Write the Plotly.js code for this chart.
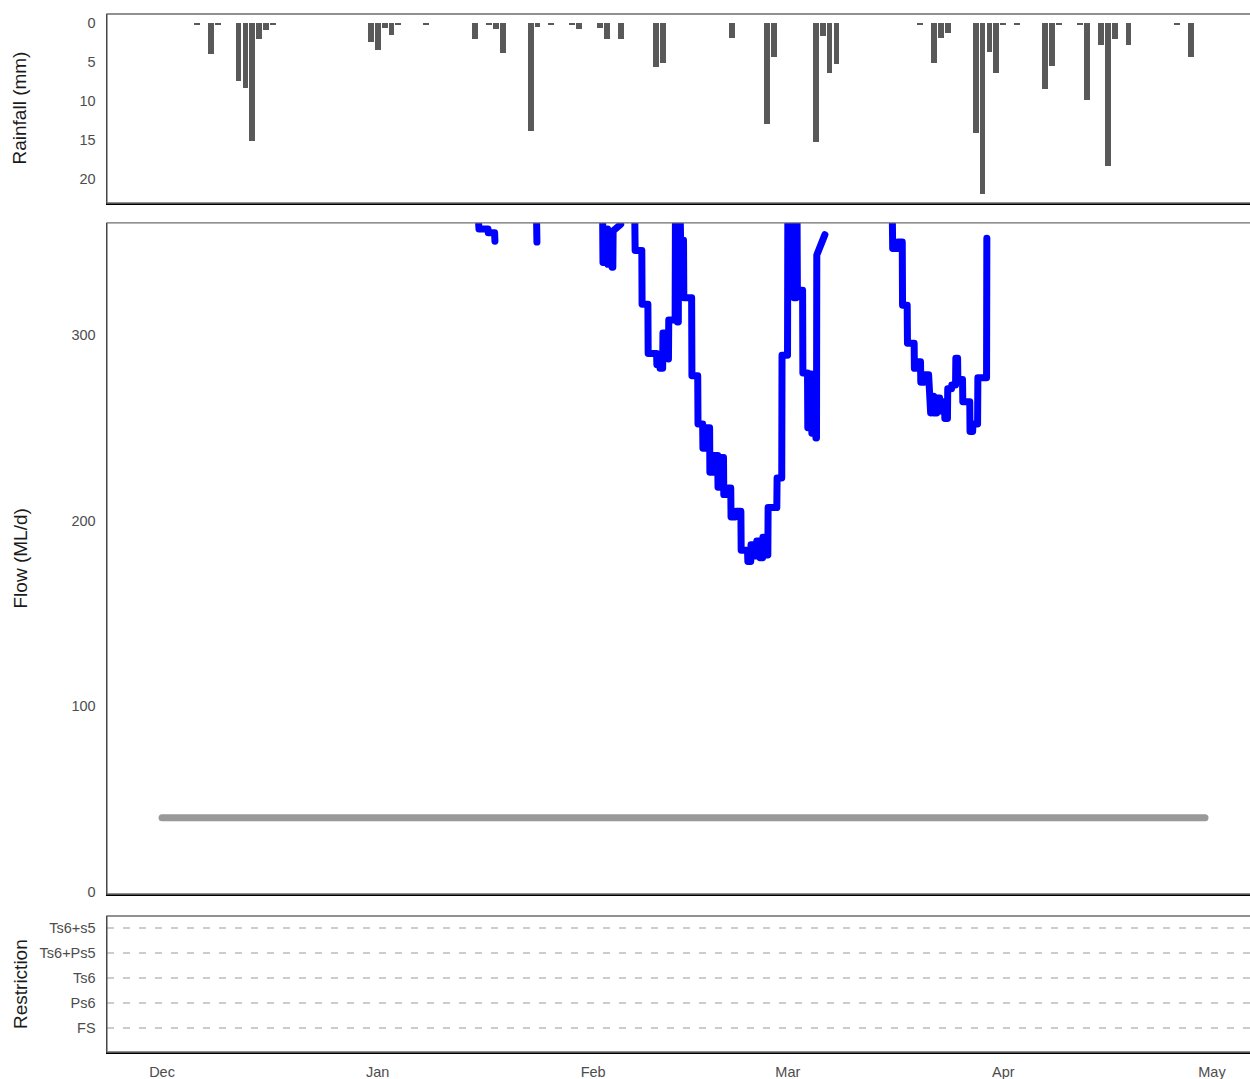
<!DOCTYPE html>
<html>
<head>
<meta charset="utf-8">
<script src="https://cdn.plot.ly/plotly-3.0.1.min.js"></script>
<style>
html, body { margin: 0; padding: 0; overflow: hidden; background: #fff; }
#chart { width: 1268px; height: 1079px; }
</style>
</head>
<body>
<div id="chart"></div>
<script>
// ---------- Data ----------
const rainDates = ['2018-12-06','2018-12-08','2018-12-09','2018-12-12','2018-12-13','2018-12-14','2018-12-15','2018-12-16','2018-12-17',
  '2018-12-31','2019-01-01','2019-01-02','2019-01-03','2019-01-04','2019-01-08','2019-01-15','2019-01-17','2019-01-18','2019-01-19',
  '2019-01-23','2019-01-24','2019-01-26','2019-01-29','2019-01-30','2019-02-02','2019-02-03','2019-02-05','2019-02-10','2019-02-11',
  '2019-02-21','2019-02-26','2019-02-27','2019-03-05','2019-03-06','2019-03-07','2019-03-08','2019-03-20','2019-03-22','2019-03-23',
  '2019-03-24','2019-03-28','2019-03-29','2019-03-30','2019-03-31','2019-04-01','2019-04-03','2019-04-07','2019-04-08','2019-04-09',
  '2019-04-12','2019-04-13','2019-04-15','2019-04-16','2019-04-17','2019-04-19','2019-04-26','2019-04-28'];
const rainValues = [0.2,4.0,0.2,7.5,8.3,15.1,2.0,0.9,0.3,
  2.5,3.5,0.7,1.5,0.2,0.2,2.0,0.2,0.8,3.9,
  13.9,0.5,0.2,0.2,0.8,0.6,2.1,2.1,5.7,5.1,
  1.9,12.9,4.3,15.3,1.7,6.4,5.3,0.2,5.1,1.9,
  1.3,14.1,21.9,3.7,6.4,0.2,0.2,8.5,5.5,0.2,
  0.2,9.9,2.8,18.3,2.1,2.8,0.2,4.3];

// Flow (ML/d) pieces that fall inside the plotted range (values above the limit are not shown)
const flowJan15 = [['2019-01-15 13:00',359.5],['2019-01-15 14:00',357],['2019-01-16 21:00',357],['2019-01-16 22:00',355],
  ['2019-01-17 20:00',355],['2019-01-17 21:00',350.5]];
const flowJan23 = [['2019-01-23 21:00',359.8],['2019-01-23 22:00',350]];
const flowFeb02 = [['2019-02-02 09:00',359.8],['2019-02-02 10:00',339],['2019-02-02 19:00',339],['2019-02-02 20:00',357],
  ['2019-02-03 02:00',357],['2019-02-03 03:00',338],['2019-02-03 16:00',338],['2019-02-03 17:00',336.5],
  ['2019-02-03 20:00',336.5],['2019-02-03 21:00',356],['2019-02-04 23:00',359.5]];
const flowFeb07 = [['2019-02-07 00:00',359.8],['2019-02-07 01:00',345.5],['2019-02-08 00:00',345.5],['2019-02-08 01:00',316.5],
  ['2019-02-08 21:00',316.5],['2019-02-08 22:00',290],['2019-02-10 03:00',290],['2019-02-10 04:00',284],
  ['2019-02-10 14:00',284],['2019-02-10 15:00',282],['2019-02-11 00:00',282],['2019-02-11 01:00',301],
  ['2019-02-11 14:00',301],['2019-02-11 15:00',287],['2019-02-11 20:00',287],['2019-02-11 21:00',308],
  ['2019-02-12 19:00',308],['2019-02-12 20:00',359.8],['2019-02-13 02:00',359.8],['2019-02-13 03:00',307],
  ['2019-02-13 06:00',307],['2019-02-13 07:00',359.8],['2019-02-13 13:00',359.8],['2019-02-13 14:00',351],
  ['2019-02-14 00:00',351],['2019-02-14 01:00',320],['2019-02-15 04:00',320],['2019-02-15 05:00',278],
  ['2019-02-16 01:00',278],['2019-02-16 02:00',252],['2019-02-16 18:00',252],['2019-02-16 19:00',239],
  ['2019-02-17 05:00',239],['2019-02-17 06:00',250],['2019-02-17 18:00',250],['2019-02-17 19:00',226],
  ['2019-02-18 05:00',226],['2019-02-18 06:00',235],['2019-02-18 22:00',235],['2019-02-18 23:00',218],
  ['2019-02-19 09:00',218],['2019-02-19 10:00',234],['2019-02-19 18:00',234],['2019-02-19 19:00',214],
  ['2019-02-20 09:00',214],['2019-02-20 10:00',217.5],['2019-02-20 19:00',217.5],['2019-02-20 20:00',202],
  ['2019-02-21 12:00',202],['2019-02-21 13:00',205],['2019-02-22 06:00',205],['2019-02-22 07:00',184],
  ['2019-02-23 05:00',184],['2019-02-23 06:00',178],['2019-02-23 16:00',178],['2019-02-23 17:00',187],
  ['2019-02-24 02:00',187],['2019-02-24 03:00',181],['2019-02-24 12:00',181],['2019-02-24 13:00',189],
  ['2019-02-24 23:00',189],['2019-02-25 00:00',180],['2019-02-25 09:00',180],['2019-02-25 10:00',191],
  ['2019-02-25 20:00',191],['2019-02-25 21:00',181.5],['2019-02-26 03:00',181.5],['2019-02-26 04:00',207],
  ['2019-02-27 10:00',207],['2019-02-27 11:00',223],['2019-02-28 03:00',223],['2019-02-28 04:00',289],
  ['2019-02-28 23:00',289],['2019-03-01 00:00',359.8],['2019-03-01 03:00',359.8],['2019-03-01 04:00',322],
  ['2019-03-01 11:00',322],['2019-03-01 12:00',359.8],['2019-03-01 20:00',359.8],['2019-03-01 21:00',320],
  ['2019-03-02 05:00',320],['2019-03-02 06:00',359.8],['2019-03-02 08:00',359.8],['2019-03-02 09:00',324],
  ['2019-03-03 03:00',324],['2019-03-03 04:00',279.5],['2019-03-03 20:00',279.5],['2019-03-03 21:00',250],
  ['2019-03-04 03:00',250],['2019-03-04 04:00',279],['2019-03-04 10:00',279],['2019-03-04 11:00',247],
  ['2019-03-04 17:00',247],['2019-03-04 18:00',279],['2019-03-05 00:00',279],['2019-03-05 01:00',244.5],
  ['2019-03-05 03:00',244.5],['2019-03-05 04:00',343],['2019-03-06 08:00',354]];
const flowMar16 = [['2019-03-16 01:00',359.8],['2019-03-16 02:00',346.5],['2019-03-16 19:00',346.5],['2019-03-16 20:00',350],
  ['2019-03-17 11:00',350],['2019-03-17 12:00',316],['2019-03-18 04:00',316],['2019-03-18 05:00',295.5],
  ['2019-03-19 04:00',295.5],['2019-03-19 05:00',282],['2019-03-19 14:00',282],['2019-03-19 15:00',285.5],
  ['2019-03-20 02:00',285.5],['2019-03-20 03:00',274.5],['2019-03-20 12:00',274.5],['2019-03-20 13:00',278.5],
  ['2019-03-21 06:00',278.5],['2019-03-21 07:00',258],['2019-03-21 13:00',258],['2019-03-21 14:00',267],
  ['2019-03-21 23:00',267],['2019-03-22 00:00',258],['2019-03-22 10:00',258],['2019-03-22 11:00',266],
  ['2019-03-22 20:00',266],['2019-03-22 21:00',259],['2019-03-23 06:00',259],['2019-03-23 07:00',264],
  ['2019-03-23 13:00',264],['2019-03-23 14:00',255],['2019-03-23 23:00',255],['2019-03-24 00:00',271],
  ['2019-03-24 13:00',271],['2019-03-24 14:00',273],['2019-03-25 03:00',273],['2019-03-25 04:00',287.5],
  ['2019-03-25 10:00',287.5],['2019-03-25 11:00',276],['2019-03-26 03:00',276],['2019-03-26 04:00',264],
  ['2019-03-27 04:00',264],['2019-03-27 05:00',248],['2019-03-27 14:00',248],['2019-03-27 15:00',252],
  ['2019-03-28 07:00',252],['2019-03-28 08:00',277],['2019-03-29 14:00',277],['2019-03-29 15:00',352]];

const thresholdDates = ['2018-12-01','2019-04-30'];
const thresholdValues = [40, 40];

const restrictionLevels = ['FS','Ps6','Ts6','Ts6+Ps5','Ts6+s5'];

const monthTicks = ['2018-12-01','2019-01-01','2019-02-01','2019-03-01','2019-04-01','2019-05-01'];
const monthLabels = ['Dec','Jan','Feb','Mar','Apr','May'];

// ---------- Build flow trace (gaps between pieces) ----------
const flowPieces = [flowJan15, flowJan23, flowFeb02, flowFeb07, flowMar16];
const flowX = [], flowY = [];
flowPieces.forEach((p, i) => {
  if (i > 0) { flowX.push(null); flowY.push(null); }
  p.forEach(pt => { flowX.push(pt[0]); flowY.push(pt[1]); });
});

// ---------- Styling ----------
const FONT = '"Liberation Sans", Arial, sans-serif';
const tickFont = {family: FONT, size: 14.5, color: '#4d4d4d'};
const titleFont = {family: FONT, size: 19, color: '#1a1a1a'};
const xRange = ['2018-11-23 02:00', '2019-05-08 22:00'];
const frameColor = '#6e6e6e';

const baseX = {
  type: 'date', range: xRange, showgrid: false, zeroline: false,
  showline: true, linecolor: '#000', linewidth: 1.5, ticks: '',
  tickvals: monthTicks, ticktext: monthLabels, tickfont: tickFont
};

const traces = [
  {type: 'bar', x: rainDates, y: rainValues, xaxis: 'x', yaxis: 'y',
   marker: {color: '#595959', line: {width: 0}}, width: 0.85 * 86400000, hoverinfo: 'x+y'},
  {type: 'scatter', mode: 'lines', x: thresholdDates, y: thresholdValues, xaxis: 'x2', yaxis: 'y2',
   line: {color: '#999999', width: 7}},
  {type: 'scatter', mode: 'lines', x: flowX, y: flowY, xaxis: 'x2', yaxis: 'y2', connectgaps: false,
   line: {color: '#0000ff', width: 7}},
  {type: 'scatter', mode: 'markers', x: [], y: [], xaxis: 'x3', yaxis: 'y3'}
];

function frame(xr, yr) {
  return {type: 'rect', xref: xr + ' domain', yref: yr + ' domain', x0: 0, x1: 1, y0: 0, y1: 1,
          line: {color: frameColor, width: 1.3}, fillcolor: 'rgba(0,0,0,0)', layer: 'above'};
}

const layout = {
  width: 1268, height: 1079,
  margin: {l: 107, r: 1, t: 14, b: 27},
  paper_bgcolor: '#fff', plot_bgcolor: '#fff',
  showlegend: false, bargap: 0,
  font: {family: FONT},
  xaxis: Object.assign({}, baseX, {anchor: 'y', showticklabels: false}),
  xaxis2: Object.assign({}, baseX, {anchor: 'y2', matches: 'x', showticklabels: false}),
  xaxis3: Object.assign({}, baseX, {anchor: 'y3', matches: 'x', showticklabels: true, ticklabelstandoff: 6}),
  yaxis: {domain: [0.8179, 1], range: [23.08, -1.15], tickvals: [0,5,10,15,20], ticks: '',
          showgrid: false, zeroline: false, showline: true, linecolor: '#000', linewidth: 1.5,
          tickfont: tickFont, ticklabelstandoff: 7},
  yaxis2: {domain: [0.1522, 0.7987], range: [-1.1, 360.3], tickvals: [0,100,200,300], ticks: '',
           showgrid: false, zeroline: false, showline: true, linecolor: '#000', linewidth: 1.5,
           tickfont: tickFont, ticklabelstandoff: 7},
  yaxis3: {domain: [0, 0.131], range: [0.04, 5.48], tickvals: [1,2,3,4,5], ticktext: restrictionLevels, ticks: '',
           showgrid: true, gridcolor: '#cccccc', gridwidth: 1.3, griddash: '7px,9px',
           zeroline: false, showline: true, linecolor: '#000', linewidth: 1.5,
           tickfont: tickFont, ticklabelstandoff: 7},
  shapes: [frame('x', 'y'), frame('x2', 'y2'), frame('x3', 'y3')],
  annotations: [
    {text: 'Rainfall (mm)', xref: 'paper', yref: 'y domain', x: -0.075, y: 0.5, xanchor: 'center', yanchor: 'middle',
     textangle: -90, showarrow: false, font: titleFont},
    {text: 'Flow (ML/d)', xref: 'paper', yref: 'y2 domain', x: -0.075, y: 0.5, xanchor: 'center', yanchor: 'middle',
     textangle: -90, showarrow: false, font: titleFont},
    {text: 'Restriction', xref: 'paper', yref: 'y3 domain', x: -0.075, y: 0.5, xanchor: 'center', yanchor: 'middle',
     textangle: -90, showarrow: false, font: titleFont}
  ]
};

function roundLines(gd) {
  gd.querySelectorAll('.scatterlayer .js-line').forEach(p => {
    p.style.strokeLinejoin = 'round';
    p.style.strokeLinecap = 'round';
  });
}

Plotly.newPlot('chart', traces, layout, {displayModeBar: false, staticPlot: true}).then(roundLines);
</script>
</body>
</html>
